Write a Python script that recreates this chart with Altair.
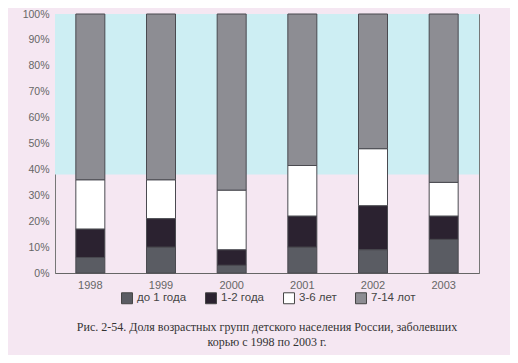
import altair as alt
import pandas as pd

years = ["1998", "1999", "2000", "2001", "2002", "2003"]
groups = ["до 1 года", "1-2 года", "3-6 лет", "7-14 лот"]
under1 = [6, 10, 3, 10, 9, 13]
age1_2 = [11, 11, 6, 12, 17, 9]
age3_6 = [19, 15, 23, 19.5, 22, 13]
age7_14 = [64, 64, 68, 58.5, 52, 65]
colors = ["#5a5c63", "#2b2230", "#ffffff", "#8d8d93"]
caption = ["Рис. 2-54. Доля возрастных групп детского населения России, заболевших",
           "корью с 1998 по 2003 г."]
ytick_values = [0.0, 0.1, 0.2, 0.3, 0.4, 0.5, 0.6, 0.7, 0.8, 0.9, 1.0]

rows = []
for i, y in enumerate(years):
    for k, (g, vals) in enumerate(zip(groups, [under1, age1_2, age3_6, age7_14])):
        rows.append({"year": y, "group": g, "value": vals[i], "order": k})
df = pd.DataFrame(rows)

yaxis = alt.Axis(format=".0%", values=ytick_values, ticks=False, grid=False,
                 domain=False, labelPadding=6, labelColor="#666", labelFontSize=10.5,
                 labelOverlap=False, labelFont="Liberation Sans", title=None)

band = alt.Chart(pd.DataFrame({"a": [0]})).mark_rect(color="#cdeef3").encode(
    y=alt.Y(datum=0.38, axis=yaxis, scale=alt.Scale(domain=[0, 1])), y2=alt.datum(1.0))

bars = alt.Chart(df).mark_bar(size=29, stroke="#4a4a50", strokeWidth=1).encode(
    x=alt.X("year:N", title=None, sort=years,
            scale=alt.Scale(paddingInner=0.59, paddingOuter=0.295),
            axis=alt.Axis(labelAngle=0, ticks=False, labelPadding=6, domainColor="#666",
                          labelColor="#666", labelFontSize=11, labelFont="Liberation Sans")),
    y=alt.Y("value:Q", stack="normalize", title=None,
            scale=alt.Scale(domain=[0, 1]), axis=yaxis),
    color=alt.Color("group:N", sort=groups,
                    scale=alt.Scale(domain=groups, range=colors),
                    legend=alt.Legend(title=None, orient="none", direction="horizontal",
                                      legendX=66, legendY=278,
                                      symbolType="square", symbolSize=120, symbolStrokeColor="#444",
                                      symbolStrokeWidth=1, labelFontSize=11.5, labelColor="#444",
                                      labelFont="Liberation Sans", columnPadding=16)),
    order=alt.Order("order:Q"),
)

chart = alt.layer(band, bars).properties(
    width=424, height=259,
    background="#f5e7f2",
    padding={"left": 47, "top": 6, "right": 31, "bottom": 82},
    autosize=alt.AutoSizeParams(type="none"),
    title=alt.TitleParams(caption, orient="bottom", font="Liberation Serif", fontSize=12,
                          fontWeight="normal", color="#333", offset=16, lineHeight=15),
).configure_view(stroke="#777", strokeWidth=1)

chart.save("out.html", embed_options={"renderer": "svg", "actions": False})
